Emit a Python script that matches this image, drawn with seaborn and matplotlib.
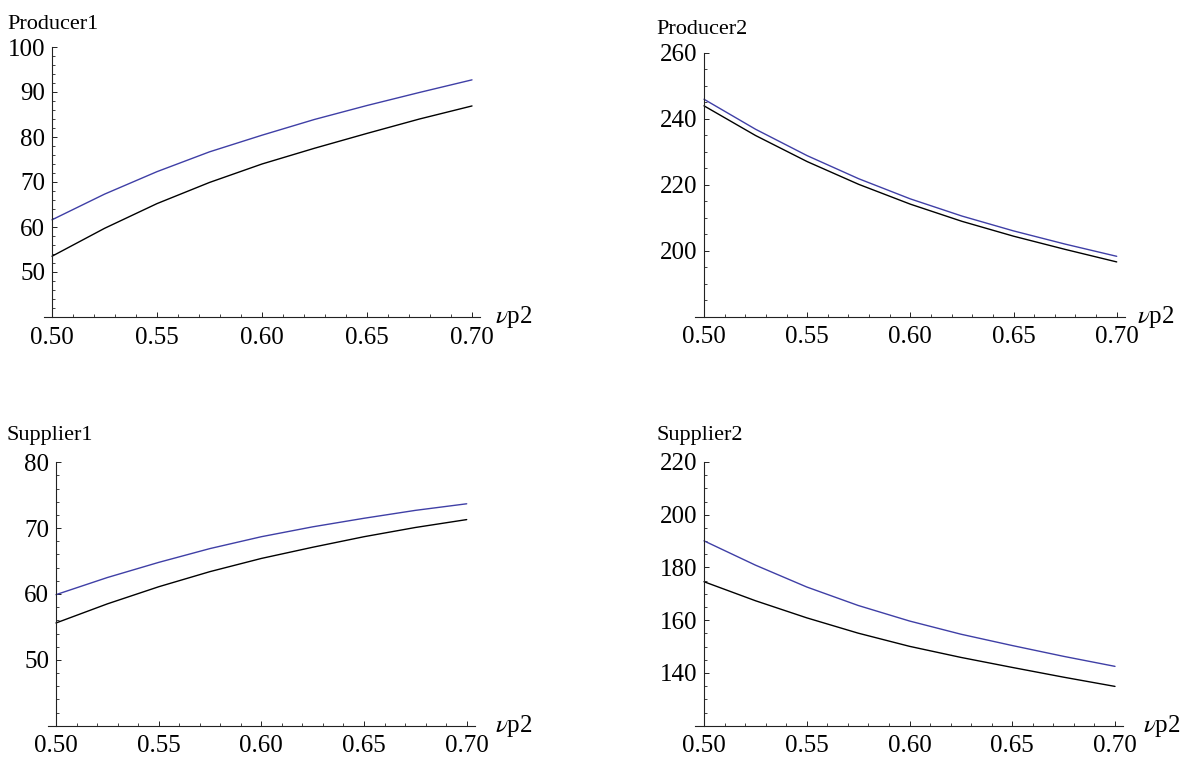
import numpy as np
import pandas as pd
import matplotlib
matplotlib.use("Agg")
import matplotlib.pyplot as plt
import seaborn as sns
from matplotlib.ticker import FixedLocator, FormatStrFormatter

# ---------------- data ----------------
vp2 = [0.5, 0.525, 0.55, 0.575, 0.6, 0.625, 0.65, 0.675, 0.7]

producer1_blue = [61.6, 67.3, 72.3, 76.7, 80.4, 83.9, 87.0, 89.9, 92.7]
producer1_black = [53.5, 59.7, 65.2, 69.9, 74.0, 77.5, 80.8, 84.0, 86.9]

producer2_blue = [245.9, 236.8, 228.8, 221.8, 215.7, 210.5, 206.0, 202.0, 198.3]
producer2_black = [243.9, 234.9, 227.0, 220.1, 214.1, 208.9, 204.4, 200.4, 196.6]

supplier1_blue = [59.9, 62.5, 64.8, 66.9, 68.7, 70.2, 71.5, 72.7, 73.7]
supplier1_black = [55.6, 58.5, 61.1, 63.4, 65.4, 67.1, 68.7, 70.1, 71.3]

supplier2_blue = [190.1, 180.9, 172.6, 165.6, 159.7, 154.7, 150.4, 146.3, 142.5]
supplier2_black = [174.6, 167.4, 160.9, 155.1, 150.1, 145.9, 142.1, 138.4, 134.9]

x_ticks = [0.50, 0.55, 0.60, 0.65, 0.70]
x_label = r"$\nu$p2"

# ---------------- style ----------------
sns.set_style("white")
plt.rcParams["font.family"] = ["Liberation Serif", "DejaVu Serif"]
plt.rcParams["mathtext.fontset"] = "stix"

W, H = 1188, 763
fig = plt.figure(figsize=(W / 100, H / 100), dpi=100)

BLUE = "#3f3fa6"
palette = {"curve1": BLUE, "curve2": "black"}

# geometry in pixels: x(0.5), x(0.7), axis left, axis right, y top, y bottom
panels = [
    dict(title="Producer1", blue=producer1_blue, black=producer1_black,
         ylim=(40, 100), major=10, minor=2,
         geom=(52, 472, 44, 480, 47, 317),
         title_xy=(7, 29), lab_xy=(495, 323)),
    dict(title="Producer2", blue=producer2_blue, black=producer2_black,
         ylim=(180, 260), major=20, minor=5,
         geom=(704, 1116.7, 695, 1125, 52.7, 316.7),
         title_xy=(656, 34), lab_xy=(1137, 323)),
    dict(title="Supplier1", blue=supplier1_blue, black=supplier1_black,
         ylim=(40, 80), major=10, minor=2,
         geom=(56, 466.7, 47.7, 475, 462.3, 725.7),
         title_xy=(7, 439.5), lab_xy=(495, 732)),
    dict(title="Supplier2", blue=supplier2_blue, black=supplier2_black,
         ylim=(120, 220), major=20, minor=5,
         geom=(704, 1115, 695, 1123, 462, 725.7),
         title_xy=(656, 439.5), lab_xy=(1143, 732)),
]

for p in panels:
    x0, x1, aL, aR, yT, yB = p["geom"]
    ax = fig.add_axes([aL / W, (H - yB) / H, (aR - aL) / W, (yB - yT) / H])
    df = pd.DataFrame({
        "vp2": vp2 * 2,
        "value": p["blue"] + p["black"],
        "series": ["curve1"] * len(vp2) + ["curve2"] * len(vp2),
    })
    sns.lineplot(data=df, x="vp2", y="value", hue="series", palette=palette,
                 ax=ax, legend=False, linewidth=1.0)
    ppx = (x1 - x0) / 0.2
    ax.set_xlim(0.5 - (x0 - aL) / ppx, 0.7 + (aR - x1) / ppx)
    ylo, yhi = p["ylim"]
    ax.set_ylim(ylo, yhi)
    ax.set_xlabel("")
    ax.set_ylabel("")

    for s in ["top", "right"]:
        ax.spines[s].set_visible(False)
    ax.spines["left"].set_position(("data", 0.5))
    ax.spines["left"].set_bounds(ylo, yhi)
    for s in ["left", "bottom"]:
        ax.spines[s].set_color("#222222")
        ax.spines[s].set_linewidth(0.8)

    ax.xaxis.set_major_locator(FixedLocator(x_ticks))
    ax.xaxis.set_major_formatter(FormatStrFormatter("%.2f"))
    ax.xaxis.set_minor_locator(FixedLocator(list(np.arange(0.50, 0.7001, 0.01))))
    ax.yaxis.set_major_locator(FixedLocator(list(range(ylo + p["major"], yhi + 1, p["major"]))))
    ax.yaxis.set_major_formatter(FormatStrFormatter("%d"))
    ax.yaxis.set_minor_locator(FixedLocator(list(range(ylo, yhi + 1, p["minor"]))))

    ax.tick_params(axis="x", which="both", bottom=True, top=False)
    ax.tick_params(axis="y", which="both", left=True, right=False)
    ax.tick_params(axis="both", which="major", direction="in", length=3.8,
                   width=0.7, color="#222222", labelsize=18, labelcolor="black")
    ax.tick_params(axis="both", which="minor", direction="in", length=2.2,
                   width=0.6, color="#222222")
    ax.tick_params(axis="x", which="major", pad=7)
    ax.tick_params(axis="y", which="major", pad=5)
    ax.grid(False)
    ax.set_facecolor("none")

    tx, ty = p["title_xy"]
    fig.text(tx / W, 1 - ty / H, p["title"], fontsize=16, ha="left",
             va="baseline", color="black")
    lx, ly = p["lab_xy"]
    fig.text(lx / W, 1 - ly / H, x_label, fontsize=18, ha="left",
             va="baseline", color="black")

fig.savefig("out.png", dpi=100, facecolor="white")
